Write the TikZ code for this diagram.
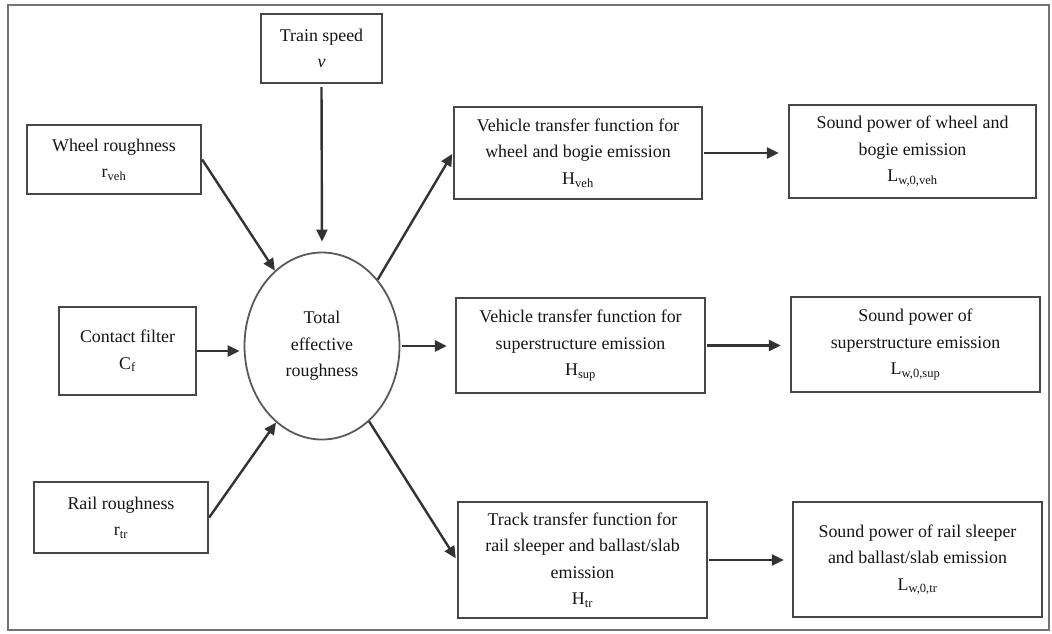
\documentclass[tikz,border=0pt]{standalone}
\usepackage{fontspec}
\setmainfont{Liberation Serif}
\usetikzlibrary{shapes.geometric,arrows.meta}
\begin{document}
\begin{tikzpicture}[x=1pt,y=-1pt,
  every node/.style={font=\fontsize{17.9}{26.5}\selectfont, text=black!92, align=center, inner sep=0pt},
  box/.style={draw=black!72, line width=2.3pt, rectangle},
  oval/.style={draw=black!65, line width=1.8pt, ellipse},
  conn/.style={draw=black!80, line width=2.4pt, -{Triangle[length=12pt,width=11pt]}}]
\useasboundingbox (0,0) rectangle (1052,633);
\draw[black!55, line width=2pt] (8,5) rectangle (1049,630);
% inputs
\node[box, minimum width=121pt, minimum height=69pt] (ts) at (321.5,48.5) {Train speed\\\textit{v}};
\node[box, minimum width=174pt, minimum height=69pt] (wr) at (114,159.5) {Wheel roughness\\r\textsubscript{veh}};
\node[box, minimum width=137pt, minimum height=88pt] (cf) at (127.5,351) {Contact filter\\C\textsubscript{f}};
\node[box, minimum width=174pt, minimum height=71pt] (rr) at (121,517.5) {Rail roughness\\r\textsubscript{tr}};
% centre
\node[oval, minimum width=155pt, minimum height=187pt] (tot) at (322,346) {Total\\effective\\roughness};
% transfer functions
\node[box, minimum width=248pt, minimum height=92pt] (v1) at (578,153) {Vehicle transfer function for\\wheel and bogie emission\\H\textsubscript{veh}};
\node[box, minimum width=249pt, minimum height=95pt] (v2) at (580.5,345.5) {Vehicle transfer function for\\superstructure emission\\H\textsubscript{sup}};
\node[box, minimum width=249pt, minimum height=116pt] (v3) at (582.5,560) {Track transfer function for\\rail sleeper and ballast/slab\\emission\\H\textsubscript{tr}};
% sound power
\node[box, minimum width=247pt, minimum height=93pt] (s1) at (912.5,151.5) {Sound power of wheel and\\bogie emission\\L\textsubscript{w,0,veh}};
\node[box, minimum width=249pt, minimum height=95pt] (s2) at (915.5,344.5) {Sound power of\\superstructure emission\\L\textsubscript{w,0,sup}};
\node[box, minimum width=249pt, minimum height=115pt] (s3) at (917.5,559.5) {Sound power of rail sleeper\\and ballast/slab emission\\L\textsubscript{w,0,tr}};
% connectors
\draw[conn, shorten >=10pt, shorten <=3pt] (ts.south) -- (tot.north);
\draw[conn] (wr.east) -- (tot.122);
\draw[conn, shorten >=4pt] (cf.east) -- (cf.east -| tot.west);
\draw[conn] (rr.east) -- (tot.239);
\draw[conn, shorten >=1pt] (tot.50) -- (v1.west);
\draw[conn, shorten >=8pt, shorten <=2pt] (tot.east) -- (tot.east -| v2.west);
\draw[conn, shorten >=2pt] (tot.302) -- (v3.west);
\draw[conn, shorten >=9pt, shorten <=1pt] (v1.east) -- (v1.east -| s1.west);
\draw[conn, shorten >=9pt, shorten <=1pt] (v2.east) -- (v2.east -| s2.west);
\draw[conn, shorten >=8pt, shorten <=1pt] (v3.east) -- (v3.east -| s3.west);
\end{tikzpicture}
\end{document}
